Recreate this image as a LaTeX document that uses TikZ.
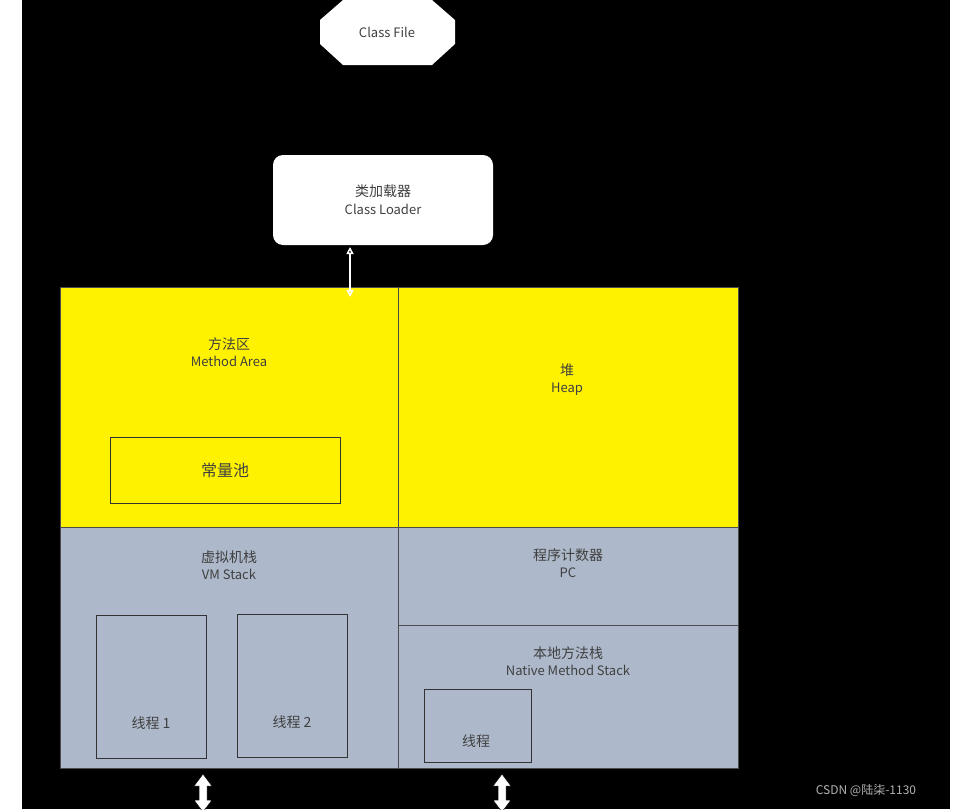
\documentclass[tikz,border=0pt]{standalone}
\usepackage{fontspec}
\setmainfont{Noto Sans CJK SC}
\usetikzlibrary{shapes.geometric,arrows.meta}
\definecolor{grayb}{HTML}{ADB9CA}
\definecolor{txt}{HTML}{404040}
\tikzset{
 region/.style={draw=black!70,line width=0.8pt,inner sep=0},
 lbl/.style={text=txt,font=\fontsize{14}{20}\selectfont,align=center},
 thr/.style={draw=black!80,line width=0.8pt,fill=grayb},
 bigarr/.style={draw=black,fill=white,line width=0.5pt}
}
\begin{document}
\begin{tikzpicture}[x=1pt,y=-1pt]
\useasboundingbox (0,0) rectangle (953,809);
\fill[white] (0,0) rectangle (953,809);
\fill[black] (22,0) rectangle (950,809);
% class file
\node[fill=white,draw=black!50,regular polygon,regular polygon sides=8,minimum width=0pt,inner sep=0] (cf) at (387,32) {};
\fill[white] (343,0) -- (432,0) -- (455,20) -- (455,44) -- (432,65) -- (343,65) -- (320,44) -- (320,20) -- cycle;
\node[lbl,font=\fontsize{13}{16}\selectfont] (cft) at (387,32) {Class File};
% class loader
\node[fill=white,rounded corners=10pt,minimum width=220pt,minimum height=90pt,lbl] (cl) at (383,200) {类加载器\\[-2pt]{\fontsize{13}{16}\selectfont Class Loader}};
% regions
\fill[yellow,region] (60,287) rectangle (398,527);
\fill[yellow,region] (398,287) rectangle (738,527);
\fill[grayb,region] (60,527) rectangle (398,768);
\fill[grayb,region] (398,527) rectangle (738,625);
\fill[grayb,region] (398,625) rectangle (738,768);
\node[lbl] (ma) at (229,352) {方法区\\[-3pt]{\fontsize{13}{16}\selectfont Method Area}};
\node[lbl] (hp) at (567,380) {堆\\[-3pt]{\fontsize{13}{16}\selectfont Heap}};
\node[draw=black!80,line width=0.8pt,fill=yellow,minimum width=230pt,minimum height=66pt,lbl,font=\fontsize{16}{20}\selectfont] (cp) at (225,470) {常量池};
\node[lbl] (vm) at (229,565) {虚拟机栈\\[-3pt]{\fontsize{13}{16}\selectfont VM Stack}};
\node[lbl] (pc) at (568,563) {程序计数器\\[-3pt]{\fontsize{13}{16}\selectfont PC}};
\node[lbl] (nm) at (568,661) {本地方法栈\\[-3pt]{\fontsize{13}{16}\selectfont Native Method Stack}};
\draw[thr] (96,615) rectangle (206,758);
\draw[thr] (237,614) rectangle (347,757);
\draw[thr] (424,689) rectangle (531,762);
\node[lbl] (t1) at (151,723) {线程 1};
\node[lbl] (t2) at (292,722) {线程 2};
\node[lbl] (t3) at (476,741) {线程};
% small double arrow
\coordinate (a1) at (350,247);
\coordinate (a2) at (350,297);
\draw[white,line width=1.5pt,{Triangle[open,length=7pt,width=7pt]}-{Triangle[open,length=7pt,width=7pt]}] (a1) -- (a2);
% big double arrows
\foreach \x/\n in {203/b1,502/b2}{
 \draw[bigarr] (\x-4,786) -- (\x-4,800) -- (\x-9,800) -- (\x,812) -- (\x+9,800) -- (\x+4,800) -- (\x+4,786) -- (\x+9,786) -- (\x,774) -- (\x-9,786) -- cycle;
}
\node[text=black!30,font=\fontsize{12}{14}\selectfont] (wm) at (866,790) {CSDN @陆柒-1130};
\end{tikzpicture}
\end{document}
